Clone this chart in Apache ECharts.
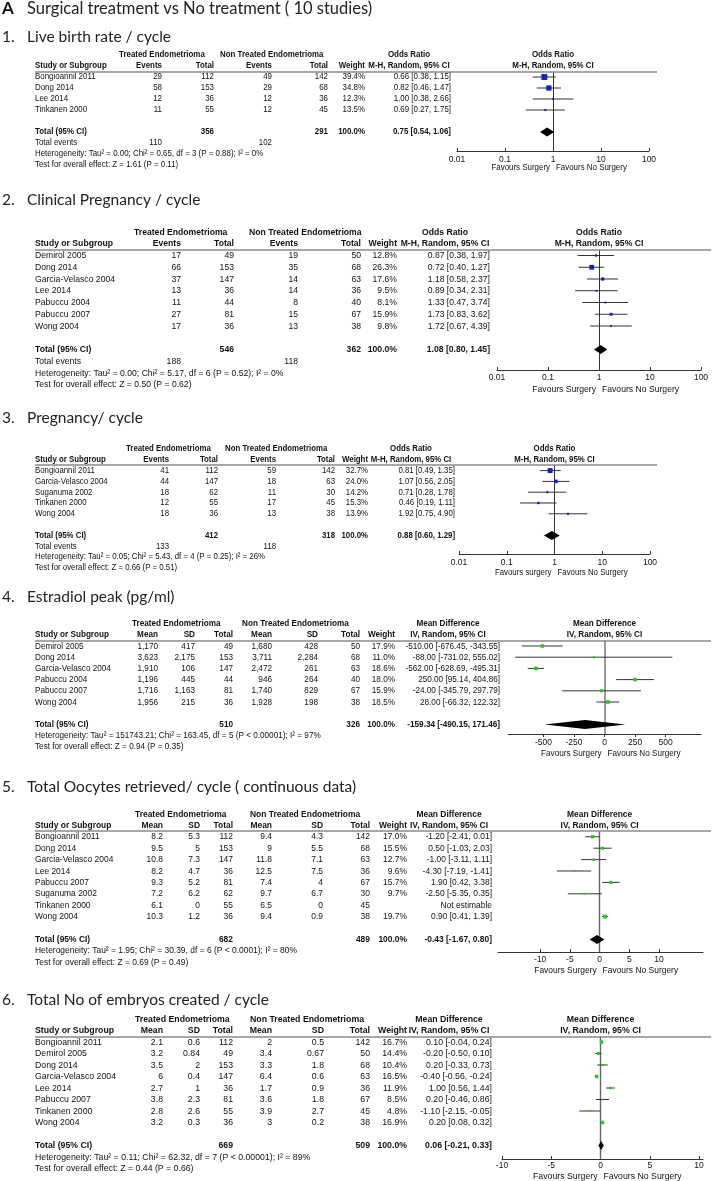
<!DOCTYPE html>
<html lang="en">
<head>
<meta charset="UTF-8">
<meta name="viewport" content="width=device-width, initial-scale=1.0">
<title>Surgical treatment vs No treatment</title>
<script src="https://cdn.jsdelivr.net/npm/echarts@6/dist/echarts.min.js"></script>
<style>
  * { margin: 0; padding: 0; }
  body { background-color: #fff; }
  #box { width: 712px; height: 1181px; }
</style>
</head>
<body>
<div id="box"></div>
<script>
// ---------- values ----------
var mainLetter = 'A';
var mainTitle = 'Surgical treatment vs No treatment ( 10 studies)';
var titleNums = ['1.', '2.', '3.', '4.', '5.', '6.'];
var titleTexts = ['Live birth rate / cycle', 'Clinical Pregnancy / cycle', 'Pregnancy/ cycle',
  'Estradiol peak (pg/ml)', 'Total Oocytes retrieved/ cycle ( continuous data)',
  'Total No of embryos created / cycle'];

// 1. live birth rate (odds ratio)
var p1Studies = ['Bongioannil 2011', 'Dong 2014', 'Lee 2014', 'Tinkanen 2000'];
var p1TrtEvents = [29, 58, 12, 11];
var p1TrtTotal = [112, 153, 36, 55];
var p1CtlEvents = [49, 29, 12, 12];
var p1CtlTotal = [142, 68, 36, 45];
var p1Weight = [39.4, 34.8, 12.3, 13.5];
var p1Est = [0.66, 0.82, 1.00, 0.69];
var p1Lo = [0.38, 0.46, 0.38, 0.27];
var p1Hi = [1.15, 1.47, 2.66, 1.75];
var p1TotalN = [356, 291];
var p1Pooled = [0.75, 0.54, 1.06];
var p1TotalEvents = [110, 102];
var p1Het = 'Heterogeneity: Tau² = 0.00; Chi² = 0.65, df = 3 (P = 0.88); I² = 0%';
var p1Test = 'Test for overall effect: Z = 1.61 (P = 0.11)';

// 2. clinical pregnancy (odds ratio)
var p2Studies = ['Demirol 2005', 'Dong 2014', 'Garcia-Velasco 2004', 'Lee 2014', 'Pabuccu 2004', 'Pabuccu 2007', 'Wong 2004'];
var p2TrtEvents = [17, 66, 37, 13, 11, 27, 17];
var p2TrtTotal = [49, 153, 147, 36, 44, 81, 36];
var p2CtlEvents = [19, 35, 14, 14, 8, 15, 13];
var p2CtlTotal = [50, 68, 63, 36, 40, 67, 38];
var p2Weight = [12.8, 26.3, 17.6, 9.5, 8.1, 15.9, 9.8];
var p2Est = [0.87, 0.72, 1.18, 0.89, 1.33, 1.73, 1.72];
var p2Lo = [0.38, 0.40, 0.58, 0.34, 0.47, 0.83, 0.67];
var p2Hi = [1.97, 1.27, 2.37, 2.31, 3.74, 3.62, 4.39];
var p2TotalN = [546, 362];
var p2Pooled = [1.08, 0.80, 1.45];
var p2TotalEvents = [188, 118];
var p2Het = 'Heterogeneity: Tau² = 0.00; Chi² = 5.17, df = 6 (P = 0.52); I² = 0%';
var p2Test = 'Test for overall effect: Z = 0.50 (P = 0.62)';

// 3. pregnancy (odds ratio)
var p3Studies = ['Bongioannil 2011', 'Garcia-Velasco 2004', 'Suganuma 2002', 'Tinkanen 2000', 'Wong 2004'];
var p3TrtEvents = [41, 44, 18, 12, 18];
var p3TrtTotal = [112, 147, 62, 55, 36];
var p3CtlEvents = [59, 18, 11, 17, 13];
var p3CtlTotal = [142, 63, 30, 45, 38];
var p3Weight = [32.7, 24.0, 14.2, 15.3, 13.9];
var p3Est = [0.81, 1.07, 0.71, 0.46, 1.92];
var p3Lo = [0.49, 0.56, 0.28, 0.19, 0.75];
var p3Hi = [1.35, 2.05, 1.78, 1.11, 4.90];
var p3TotalN = [412, 318];
var p3Pooled = [0.88, 0.60, 1.29];
var p3TotalEvents = [133, 118];
var p3Het = 'Heterogeneity: Tau² = 0.05; Chi² = 5.43, df = 4 (P = 0.25); I² = 26%';
var p3Test = 'Test for overall effect: Z = 0.66 (P = 0.51)';

// 4. estradiol peak (mean difference)
var p4Studies = ['Demirol 2005', 'Dong 2014', 'Garcia-Velasco 2004', 'Pabuccu 2004', 'Pabuccu 2007', 'Wong 2004'];
var p4TrtMean = [1170, 3623, 1910, 1196, 1716, 1956];
var p4TrtSD = [417, 2175, 106, 445, 1163, 215];
var p4TrtTotal = [49, 153, 147, 44, 81, 36];
var p4CtlMean = [1680, 3711, 2472, 946, 1740, 1928];
var p4CtlSD = [428, 2284, 261, 264, 829, 198];
var p4CtlTotal = [50, 68, 63, 40, 67, 38];
var p4Weight = [17.9, 11.0, 18.6, 18.0, 15.9, 18.5];
var p4Est = [-510, -88, -562, 250, -24, 28];
var p4Lo = [-676.45, -731.02, -628.69, 95.14, -345.79, -66.32];
var p4Hi = [-343.55, 555.02, -495.31, 404.86, 297.79, 122.32];
var p4TotalN = [510, 326];
var p4Pooled = [-159.34, -490.15, 171.46];
var p4Het = 'Heterogeneity: Tau² = 151743.21; Chi² = 163.45, df = 5 (P < 0.00001); I² = 97%';
var p4Test = 'Test for overall effect: Z = 0.94 (P = 0.35)';

// 5. total oocytes retrieved (mean difference)
var p5Studies = ['Bongioannil 2011', 'Dong 2014', 'Garcia-Velasco 2004', 'Lee 2014', 'Pabuccu 2007', 'Suganuma 2002', 'Tinkanen 2000', 'Wong 2004'];
var p5TrtMean = [8.2, 9.5, 10.8, 8.2, 9.3, 7.2, 6.1, 10.3];
var p5TrtSD = [5.3, 5, 7.3, 4.7, 5.2, 6.2, 0, 1.2];
var p5TrtTotal = [112, 153, 147, 36, 81, 62, 55, 36];
var p5CtlMean = [9.4, 9, 11.8, 12.5, 7.4, 9.7, 6.5, 9.4];
var p5CtlSD = [4.3, 5.5, 7.1, 7.5, 4, 6.7, 0, 0.9];
var p5CtlTotal = [142, 68, 63, 36, 67, 30, 45, 38];
var p5Weight = [17.0, 15.5, 12.7, 9.6, 15.7, 9.7, null, 19.7];
var p5Est = [-1.20, 0.50, -1.00, -4.30, 1.90, -2.50, null, 0.90];
var p5Lo = [-2.41, -1.03, -3.11, -7.19, 0.42, -5.35, null, 0.41];
var p5Hi = [0.01, 2.03, 1.11, -1.41, 3.38, 0.35, null, 1.39];
var p5TotalN = [682, 489];
var p5Pooled = [-0.43, -1.67, 0.80];
var p5Het = 'Heterogeneity: Tau² = 1.95; Chi² = 30.39, df = 6 (P < 0.0001); I² = 80%';
var p5Test = 'Test for overall effect: Z = 0.69 (P = 0.49)';

// 6. embryos created (mean difference)
var p6Studies = ['Bongioannil 2011', 'Demirol 2005', 'Dong 2014', 'Garcia-Velasco 2004', 'Lee 2014', 'Pabuccu 2007', 'Tinkanen 2000', 'Wong 2004'];
var p6TrtMean = [2.1, 3.2, 3.5, 6, 2.7, 3.8, 2.8, 3.2];
var p6TrtSD = [0.6, 0.84, 2, 0.4, 1, 2.3, 2.6, 0.3];
var p6TrtTotal = [112, 49, 153, 147, 36, 81, 55, 36];
var p6CtlMean = [2, 3.4, 3.3, 6.4, 1.7, 3.6, 3.9, 3];
var p6CtlSD = [0.5, 0.67, 1.8, 0.6, 0.9, 1.8, 2.7, 0.2];
var p6CtlTotal = [142, 50, 68, 63, 36, 67, 45, 38];
var p6Weight = [16.7, 14.4, 10.4, 16.5, 11.9, 8.5, 4.8, 16.9];
var p6Est = [0.10, -0.20, 0.20, -0.40, 1.00, 0.20, -1.10, 0.20];
var p6Lo = [-0.04, -0.50, -0.33, -0.56, 0.56, -0.46, -2.15, 0.08];
var p6Hi = [0.24, 0.10, 0.73, -0.24, 1.44, 0.86, -0.05, 0.32];
var p6TotalN = [669, 509];
var p6Pooled = [0.06, -0.21, 0.33];
var p6Het = 'Heterogeneity: Tau² = 0.11; Chi² = 62.32, df = 7 (P < 0.00001); I² = 89%';
var p6Test = 'Test for overall effect: Z = 0.44 (P = 0.66)';

// axis ticks
var orTicks = [0.01, 0.1, 1, 10, 100];
var orTickLabels = ['0.01', '0.1', '1', '10', '100'];
var p4Ticks = [-500, -250, 0, 250, 500];
var p5Ticks = [-10, -5, 0, 5, 10];
var p6Ticks = [-10, -5, 0, 5, 10];

// ---------- layout / styles ----------
var FONT = "'Liberation Sans', Arial, sans-serif";
var TITLE_FONT = "Lato, 'Open Sans', sans-serif";
var TXT = '#111';
var BLUE = '#1020c0';
var GREEN = '#2ec42e';

function fmtNum(v) { return v == null ? '' : v.toLocaleString('en-US', { maximumFractionDigits: 3 }); }
function fmtW(w) { return w == null ? '' : w.toFixed(1) + '%'; }
function fmtCI(e, l, h) {
  return e == null ? 'Not estimable' : e.toFixed(2) + ' [' + l.toFixed(2) + ', ' + h.toFixed(2) + ']';
}

var panels = [
  { kind: 'or', studies: p1Studies, cols: [p1TrtEvents, p1TrtTotal, p1CtlEvents, p1CtlTotal],
    weight: p1Weight, est: p1Est, lo: p1Lo, hi: p1Hi, totalN: p1TotalN, pooled: p1Pooled,
    events: p1TotalEvents, het: p1Het, test: p1Test, fav: ['Favours Surgery', 'Favours No Surgery'],
    y0: 55, rowH: 11, axisY: 151, favY: 168, fs: 9, sx: 0.88, grp: [119, 220],
    colX: [162, 214, 272, 328, 365, 451], estX: 409, plot: [457, 649], lineEnd: 657,
    tickIn: true, lblMargin: 4, refColor: '#333', refW: 1, sq: 0.15 },
  { kind: 'or', studies: p2Studies, cols: [p2TrtEvents, p2TrtTotal, p2CtlEvents, p2CtlTotal],
    weight: p2Weight, est: p2Est, lo: p2Lo, hi: p2Hi, totalN: p2TotalN, pooled: p2Pooled,
    events: p2TotalEvents, het: p2Het, test: p2Test, fav: ['Favours Surgery', 'Favours No Surgery'],
    y0: 232, rowH: 11.75, axisY: 370, favY: 389, fs: 9.8, sx: 0.88, grp: [134, 249],
    colX: [181, 234, 298, 361, 397, 490], estX: 445, plot: [497, 701], lineEnd: 711,
    tickIn: true, lblMargin: 3, refColor: '#333', refW: 1, sq: 0.18 },
  { kind: 'or', studies: p3Studies, cols: [p3TrtEvents, p3TrtTotal, p3CtlEvents, p3CtlTotal],
    weight: p3Weight, est: p3Est, lo: p3Lo, hi: p3Hi, totalN: p3TotalN, pooled: p3Pooled,
    events: p3TotalEvents, het: p3Het, test: p3Test, fav: ['Favours surgery', 'Favours No Surgery'],
    y0: 449, rowH: 10.8, axisY: 554, favY: 573, fs: 9, sx: 0.87, grp: [126, 225],
    colX: [169, 218, 276, 335, 368, 455], estX: 411, plot: [459, 650], lineEnd: 657,
    tickIn: true, lblMargin: 4, refColor: '#333', refW: 1, sq: 0.15 },
  { kind: 'md', studies: p4Studies, cols: [p4TrtMean, p4TrtSD, p4TrtTotal, p4CtlMean, p4CtlSD, p4CtlTotal],
    weight: p4Weight, est: p4Est, lo: p4Lo, hi: p4Hi, totalN: p4TotalN, pooled: p4Pooled,
    het: p4Het, test: p4Test, fav: ['Favours Surgery', 'Favours No Surgery'],
    y0: 623.6, rowH: 11.2, axisY: 734, favY: 753, fs: 9.2, sx: 0.89, grp: [132, 242],
    colX: [158, 195, 233, 272, 318, 360, 395, 500], estX: 448, plot: [508, 701], lineEnd: 711,
    min: -790, max: 790, ticks: p4Ticks, tickIn: false, lblMargin: 4,
    refColor: '#9a9a9a', refW: 2, sq: 0.2 },
  { kind: 'md', studies: p5Studies, cols: [p5TrtMean, p5TrtSD, p5TrtTotal, p5CtlMean, p5CtlSD, p5CtlTotal],
    weight: p5Weight, est: p5Est, lo: p5Lo, hi: p5Hi, totalN: p5TotalN, pooled: p5Pooled,
    het: p5Het, test: p5Test, fav: ['Favours Surgery', 'Favours No Surgery'],
    y0: 814, rowH: 11.4, axisY: 952, favY: 970, fs: 9.4, sx: 0.9, grp: [135, 250],
    colX: [163, 200, 233, 272, 323, 370, 407, 492], estX: 449, plot: [498, 703], lineEnd: 711,
    min: -17.1, max: 17.4, ticks: p5Ticks, tickIn: true, lblMargin: 3,
    refColor: '#666', refW: 1.4, sq: 0.2 },
  { kind: 'md', studies: p6Studies, cols: [p6TrtMean, p6TrtSD, p6TrtTotal, p6CtlMean, p6CtlSD, p6CtlTotal],
    weight: p6Weight, est: p6Est, lo: p6Lo, hi: p6Hi, totalN: p6TotalN, pooled: p6Pooled,
    het: p6Het, test: p6Test, fav: ['Favours Surgery', 'Favours No Surgery'],
    y0: 1019, rowH: 11.5, axisY: 1159, favY: 1176, fs: 9.6, sx: 0.91, grp: [135, 250],
    colX: [163, 200, 233, 272, 324, 370, 407, 492], estX: 449, plot: [502, 703], lineEnd: 711,
    min: -10, max: 10.4, ticks: p6Ticks, tickIn: true, lblMargin: 2,
    refColor: '#666', refW: 1.4, sq: 0.21 }
];
var titleY = [37, 200, 418, 597, 787, 1000];

var grids = [], xAxes = [], yAxes = [], series = [];

// custom series that writes text cells at (x, row) through the grid's axes
function textSeries(axisIdx, cells, fs, sx, markLine) {
  var s = {
    type: 'custom', xAxisIndex: axisIdx, yAxisIndex: axisIdx, clip: false, silent: true, z: 3,
    data: cells.map(function (c) { return [c.x, c.row]; }),
    renderItem: function (params, api) {
      var c = cells[params.dataIndex];
      var pt = api.coord([c.x, c.row]);
      return {
        type: 'text', x: pt[0] + (c.dx || 0), y: pt[1], scaleX: sx,
        style: {
          text: c.text, fill: TXT, align: c.align, verticalAlign: 'middle',
          font: (c.bold ? 'bold ' : '') + fs + 'px ' + FONT
        }
      };
    }
  };
  if (markLine) s.markLine = markLine;
  return s;
}

panels.forEach(function (p) {
  var isOR = p.kind === 'or';
  var n = p.studies.length;
  var nCols = p.cols.length;
  var totRow = n + 3;
  var nRows = totRow + (isOR ? 4 : 3);
  var axisRow = (p.axisY - p.y0) / p.rowH;
  var favRow = (p.favY - p.y0) / p.rowH;
  var ref = isOR ? 1 : 0;

  // ----- table grid: x in layout units, y in row units -----
  var tg = grids.length;
  grids.push({ left: 0, width: 712, top: p.y0 - p.rowH / 2, height: nRows * p.rowH,
    containLabel: false, outerBoundsMode: 'none' });
  xAxes.push({ gridIndex: tg, type: 'value', min: 0, max: 712, show: false });
  yAxes.push({ gridIndex: tg, type: 'value', min: -0.5, max: nRows - 0.5, inverse: true, show: false });

  var cells = [];
  function add(x, row, text, align, bold) {
    cells.push({ x: x, row: row, text: String(text), align: align, bold: !!bold });
  }
  add(p.grp[0], 0, 'Treated Endometrioma', 'left', true);
  add(p.grp[1], 0, 'Non Treated Endometrioma', 'left', true);
  add(p.estX, 0, isOR ? 'Odds Ratio' : 'Mean Difference', 'center', true);
  add(35, 1, 'Study or Subgroup', 'left', true);
  var hdr = isOR ? ['Events', 'Total', 'Events', 'Total'] : ['Mean', 'SD', 'Total', 'Mean', 'SD', 'Total'];
  hdr.forEach(function (h, j) { add(p.colX[j], 1, h, 'right', true); });
  add(p.colX[nCols], 1, 'Weight', 'right', true);
  var method = isOR ? 'M-H, Random, 95% CI' : 'IV, Random, 95% CI';
  add(p.estX, 1, method, 'center', true);

  p.studies.forEach(function (s, i) {
    var r = i + 2;
    add(35, r, s, 'left');
    p.cols.forEach(function (col, j) { add(p.colX[j], r, fmtNum(col[i]), 'right'); });
    add(p.colX[nCols], r, fmtW(p.weight[i]), 'right');
    add(p.colX[nCols + 1], r, fmtCI(p.est[i], p.lo[i], p.hi[i]), 'right');
  });

  var nIdx = isOR ? [1, 3] : [2, 5];
  add(35, totRow, 'Total (95% CI)', 'left', true);
  add(p.colX[nIdx[0]], totRow, fmtNum(p.totalN[0]), 'right', true);
  add(p.colX[nIdx[1]], totRow, fmtNum(p.totalN[1]), 'right', true);
  add(p.colX[nCols], totRow, '100.0%', 'right', true);
  add(p.colX[nCols + 1], totRow, fmtCI(p.pooled[0], p.pooled[1], p.pooled[2]), 'right', true);
  var r = totRow + 1;
  if (isOR) {
    add(35, r, 'Total events', 'left');
    add(p.colX[0], r, p.events[0], 'right');
    add(p.colX[2], r, p.events[1], 'right');
    r++;
  }
  add(35, r, p.het, 'left');
  add(35, r + 1, p.test, 'left');

  series.push(textSeries(tg, cells, p.fs, p.sx, {
    silent: true, symbol: ['none', 'none'], label: { show: false },
    lineStyle: { color: '#8a8a8a', width: 1.5, type: 'solid' },
    data: [[{ coord: [35, 1.5] }, { coord: [p.lineEnd, 1.5] }]]
  }));

  // ----- forest plot grid -----
  var pg = grids.length;
  var top = p.y0 + 1.5 * p.rowH;
  grids.push({ left: p.plot[0], width: p.plot[1] - p.plot[0], top: top, height: p.axisY - top,
    containLabel: false, outerBoundsMode: 'none' });
  var xa = {
    gridIndex: pg, type: isOR ? 'log' : 'value',
    min: isOR ? orTicks[0] : p.min, max: isOR ? orTicks[orTicks.length - 1] : p.max,
    axisLine: { show: true, onZero: false, lineStyle: { color: '#333', width: 1 } },
    axisTick: { show: true, inside: p.tickIn, length: 3, lineStyle: { color: '#333' } },
    axisLabel: { fontFamily: FONT, fontSize: 8.5, color: TXT, margin: p.lblMargin },
    splitLine: { show: false }, minorTick: { show: false }
  };
  if (isOR) {
    xa.logBase = 10;
    xa.axisLabel.formatter = function (v) {
      for (var i = 0; i < orTicks.length; i++) {
        if (Math.abs(Math.log10(v) - Math.log10(orTicks[i])) < 1e-6) return orTickLabels[i];
      }
      return '';
    };
  } else {
    xa.axisTick.customValues = p.ticks;
    xa.axisLabel.customValues = p.ticks;
  }
  xAxes.push(xa);
  yAxes.push({ gridIndex: pg, type: 'value', min: 1.5, max: axisRow, inverse: true, show: false });

  var ci = [];
  p.est.forEach(function (e, i) {
    if (e != null) ci.push([e, i + 2, p.lo[i], p.hi[i], p.weight[i]]);
  });
  var markColor = isOR ? BLUE : GREEN;
  var sq = p.sq;
  series.push({
    type: 'custom', xAxisIndex: pg, yAxisIndex: pg, clip: false, silent: true, z: 4,
    data: ci,
    renderItem: function (params, api) {
      var row = api.value(1);
      var a = api.coord([api.value(2), row]);
      var b = api.coord([api.value(3), row]);
      var c = api.coord([api.value(0), row]);
      var side = Math.max(1.8, api.value(4) * sq);
      return {
        type: 'group', children: [
          { type: 'line', shape: { x1: a[0], y1: a[1], x2: b[0], y2: b[1] },
            style: { stroke: '#333', lineWidth: 1 } },
          { type: 'rect', shape: { x: c[0] - side / 2, y: c[1] - side / 2, width: side, height: side },
            style: { fill: markColor } }
        ]
      };
    },
    markLine: {
      silent: true, symbol: ['none', 'none'], label: { show: false }, z: 1,
      lineStyle: { color: p.refColor, width: p.refW, type: 'solid' },
      data: [{ xAxis: ref }]
    }
  });

  // pooled diamond
  series.push({
    type: 'custom', xAxisIndex: pg, yAxisIndex: pg, clip: false, silent: true, z: 5,
    data: [[p.pooled[0], totRow, p.pooled[1], p.pooled[2]]],
    renderItem: function (params, api) {
      var row = api.value(1);
      var c = api.coord([api.value(0), row]);
      var a = api.coord([api.value(2), row]);
      var b = api.coord([api.value(3), row]);
      var h = 4.5;
      return { type: 'polygon', shape: { points: [[a[0], c[1]], [c[0], c[1] - h], [b[0], c[1]], [c[0], c[1] + h]] },
        style: { fill: '#000' } };
    }
  });

  // plot headers and favours labels
  var pcells = [
    { x: ref, row: 0, text: isOR ? 'Odds Ratio' : 'Mean Difference', align: 'center', bold: true },
    { x: ref, row: 1, text: method, align: 'center', bold: true },
    { x: ref, row: favRow, dx: -3, text: p.fav[0], align: 'right' },
    { x: ref, row: favRow, dx: 3, text: p.fav[1], align: 'left' }
  ];
  series.push(textSeries(pg, pcells, p.fs, p.sx));
});

// panel titles
var graphics = [
  { type: 'text', x: 2, y: 9, style: { text: mainLetter, font: 'bold 17px ' + TITLE_FONT, fill: '#111', verticalAlign: 'middle' } },
  { type: 'text', x: 27, y: 9, style: { text: mainTitle, font: '16.5px ' + TITLE_FONT, fill: '#222', verticalAlign: 'middle' } }
];
titleNums.forEach(function (t, i) {
  graphics.push({ type: 'text', x: 2, y: titleY[i], style: { text: t, font: '15.5px ' + TITLE_FONT, fill: '#222', verticalAlign: 'middle' } });
  graphics.push({ type: 'text', x: 27, y: titleY[i], style: { text: titleTexts[i], font: '15.5px ' + TITLE_FONT, fill: '#222', verticalAlign: 'middle' } });
});

var option = {
  animation: false,
  backgroundColor: '#fff',
  grid: grids,
  xAxis: xAxes,
  yAxis: yAxes,
  graphic: graphics,
  series: series
};
echarts.init(document.querySelector('#box')).setOption(option);
</script>
</body>
</html>
